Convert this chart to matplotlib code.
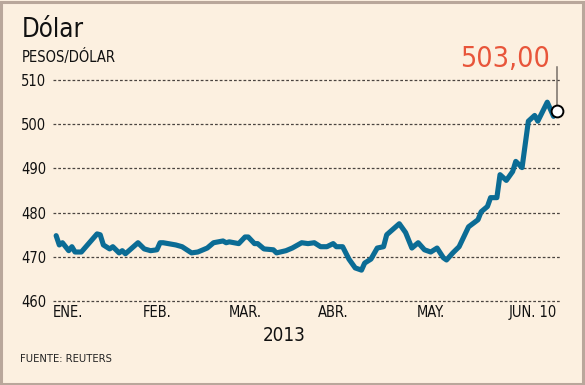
import pandas as pd
import matplotlib.pyplot as plt
from matplotlib.patches import Rectangle

# daily close, pesos per dollar
dates = ["2013-01-02", "2013-01-03", "2013-01-04", "2013-01-06", "2013-01-07",
         "2013-01-08", "2013-01-10", "2013-01-15", "2013-01-16", "2013-01-17",
         "2013-01-19", "2013-01-20", "2013-01-22", "2013-01-23", "2013-01-24",
         "2013-01-28", "2013-01-30", "2013-02-01", "2013-02-03", "2013-02-04",
         "2013-02-05", "2013-02-09", "2013-02-11", "2013-02-14", "2013-02-16",
         "2013-02-19", "2013-02-21", "2013-02-24", "2013-02-25", "2013-02-26",
         "2013-03-01", "2013-03-03", "2013-03-04", "2013-03-06", "2013-03-07",
         "2013-03-09", "2013-03-12", "2013-03-13", "2013-03-16", "2013-03-18",
         "2013-03-21", "2013-03-23", "2013-03-25", "2013-03-27", "2013-03-29",
         "2013-03-31", "2013-04-01", "2013-04-03", "2013-04-05", "2013-04-07",
         "2013-04-09", "2013-04-10", "2013-04-12", "2013-04-14", "2013-04-16",
         "2013-04-17", "2013-04-21", "2013-04-23", "2013-04-25", "2013-04-27",
         "2013-04-29", "2013-05-01", "2013-05-03", "2013-05-05", "2013-05-06",
         "2013-05-08", "2013-05-10", "2013-05-13", "2013-05-16", "2013-05-17",
         "2013-05-19", "2013-05-20", "2013-05-22", "2013-05-23", "2013-05-25",
         "2013-05-27", "2013-05-28", "2013-05-30", "2013-06-01", "2013-06-03",
         "2013-06-04", "2013-06-07", "2013-06-09", "2013-06-10"]
values = [474.8, 472.7, 473.2, 471.4, 472.3,
          471.1, 471.1, 475.2, 475.0, 472.7,
          471.8, 472.3, 470.9, 471.4, 470.7,
          473.2, 471.8, 471.4, 471.6, 473.2,
          473.2, 472.7, 472.3, 470.9, 471.1,
          472.0, 473.2, 473.6, 473.2, 473.4,
          473.0, 474.5, 474.5, 473.0, 473.0,
          471.8, 471.6, 470.9, 471.4, 472.0,
          473.2, 473.0, 473.2, 472.3, 472.3,
          473.0, 472.3, 472.3, 469.5, 467.5,
          467.0, 468.6, 469.5, 472.0, 472.3,
          475.0, 477.5, 475.5, 472.0, 473.2,
          471.6, 471.1, 472.0, 469.8, 469.3,
          470.9, 472.3, 476.8, 478.4, 480.2,
          481.4, 483.4, 483.4, 488.6, 487.3,
          489.3, 491.6, 490.2, 500.7, 502.0,
          500.7, 505.0, 501.8, 503.0]

month_ticks = ["2013-01-01", "2013-02-03", "2013-03-03", "2013-03-31", "2013-05-01", "2013-06-10"]
month_labels = ["ENE.", "FEB.", "MAR.", "ABR.", "MAY.", "JUN. 10"]
y_ticks = [460, 470, 480, 490, 500, 510]

dates = pd.to_datetime(dates)
bg = "#FCF0E0"
plt.rcParams["font.family"] = ["DejaVu Sans"]

fig = plt.figure(figsize=(5.85, 3.85), dpi=100, facecolor=bg)
fig.patches.append(Rectangle((0.002, 0.003), 0.995, 0.993, transform=fig.transFigure,
                             fill=False, edgecolor="#B9A79B", linewidth=2.2))

ax = fig.add_axes([0.0906, 0.218, 0.8664, 0.574])
ax.set_facecolor(bg)
for s in ax.spines.values():
    s.set_visible(False)

ax.set_ylim(460, 510)
ax.set_xlim(pd.Timestamp("2013-01-01 10:00"), pd.Timestamp("2013-06-11 00:00"))

for yv in y_ticks:
    ax.axhline(yv, color="#4A4440", linewidth=0.9, linestyle=(0, (2.2, 1.6)),
               zorder=1, clip_on=False)

ax.plot(dates, values, color="#0B6C95", linewidth=3.7, solid_joinstyle="round",
        solid_capstyle="round", zorder=3)

# end marker and callout
ax.plot([dates[-1], dates[-1]], [values[-1] + 1.2, 513.0], color="#777068",
        linewidth=1.1, zorder=2, clip_on=False)
ax.plot(dates[-1], values[-1], marker="o", markersize=8.5, markerfacecolor="white",
        markeredgecolor="black", markeredgewidth=1.4, zorder=4, clip_on=False)
ax.text(dates[-1] - pd.Timedelta(days=2), 512.9, "503,00", color="#E8553A",
        fontsize=20.5, ha="right", va="baseline", fontstretch="condensed")

ax.set_yticks(y_ticks)
ax.set_yticklabels([str(v) for v in y_ticks], fontsize=10.5, fontstretch="condensed")
ax.tick_params(axis="y", length=0, pad=5, colors="#111111")

ax.set_xticks(pd.to_datetime(month_ticks))
ax.set_xticklabels(month_labels, fontsize=10.5, fontstretch="condensed")
ax.tick_params(axis="x", length=0, pad=3, colors="#111111")
xl = ax.get_xticklabels()
xl[0].set_ha("left")
xl[-1].set_ha("right")
for lab in xl[1:-1]:
    lab.set_ha("center")

fig.text(0.038, 0.905, "Dólar", fontsize=18.5, ha="left", va="baseline", color="#111111",
         fontstretch="condensed")
fig.text(0.038, 0.838, "PESOS/DÓLAR", fontsize=10.5, ha="left", va="baseline",
         color="#111111", fontstretch="condensed")
fig.text(0.485, 0.113, "2013", fontsize=13.5, ha="center", va="baseline", color="#111111",
         fontstretch="condensed")
fig.text(0.034, 0.06, "FUENTE: REUTERS", fontsize=8, ha="left", va="baseline",
         color="#222222", fontstretch="condensed")

fig.savefig("out.png", dpi=100, facecolor=bg)
